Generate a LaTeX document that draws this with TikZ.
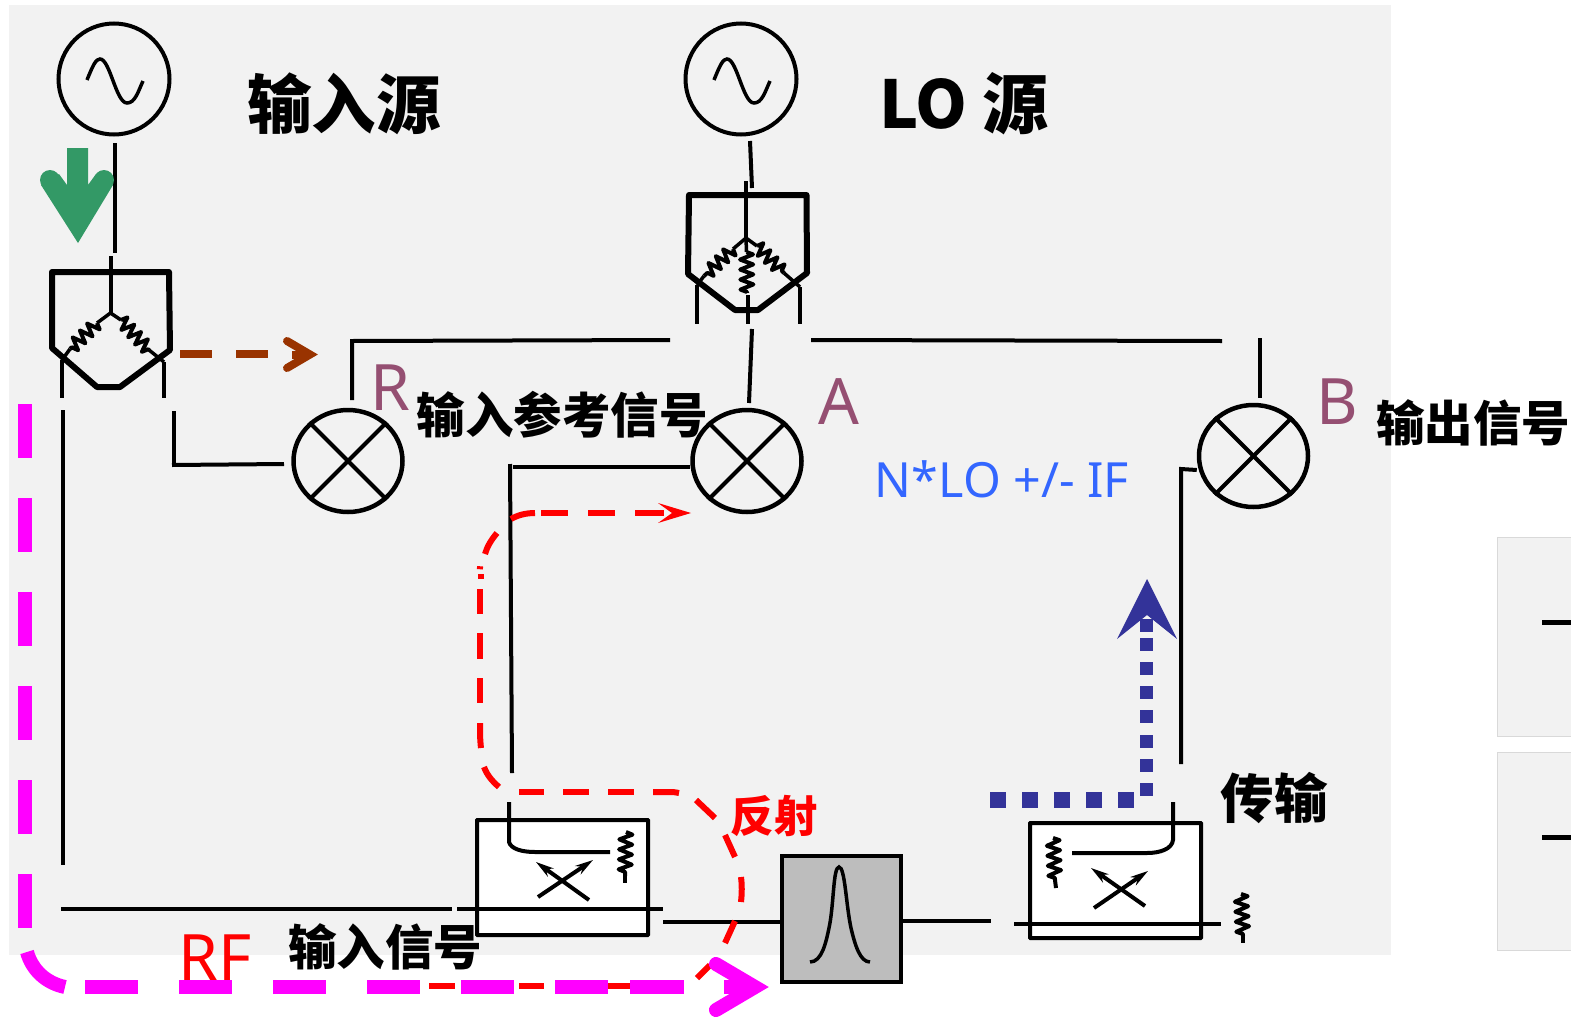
\documentclass[tikz,border=0pt]{standalone}
\usepackage{fontspec}
\setmainfont{Noto Sans}
\newfontfamily\cjk{Noto Sans CJK SC}
\usetikzlibrary{shapes.geometric,decorations.pathmorphing,arrows.meta}
\definecolor{panel}{HTML}{F2F2F2}
\definecolor{panelline}{HTML}{D9D9D9}
\definecolor{grn}{HTML}{339966}
\definecolor{brn}{HTML}{993300}
\definecolor{mag}{HTML}{FF00FF}
\definecolor{nvy}{HTML}{333399}
\definecolor{plum}{HTML}{954F72}
\definecolor{lnk}{HTML}{3366FF}
\definecolor{filt}{HTML}{BDBDBD}
\tikzset{
  x=1pt,y=-1pt,
  wire/.style={line width=4pt},
  thin wire/.style={line width=3.5pt},
  source/.style={circle,draw,line width=4pt,minimum size=111pt,inner sep=0pt},
  mixer/.style={ellipse,draw,line width=4.5pt,minimum width=109pt,minimum height=102pt,inner sep=0pt},
  splitter/.style={line width=6pt,line join=round},
  res/.style={line width=4pt,line join=round,decorate,decoration={zigzag,segment length=10pt,amplitude=6.5pt}},
  couplerbox/.style={draw,fill=white,line width=4pt,inner sep=0pt,rounded corners=0.5pt},
  filterbox/.style={draw,fill=filt,line width=4pt,inner sep=0pt},
  crossarrow/.style={line width=4pt,-{Stealth[length=18pt,width=10pt]}},
  title/.style={inner sep=0pt,text=black},
  letter/.style={font=\fontsize{64}{64}\selectfont,inner sep=0pt,text=plum},
  reddash/.style={red,line width=6pt},
  magdash/.style={mag,line width=14pt}
}
\begin{document}
\begin{tikzpicture}
\useasboundingbox (0,0) rectangle (1571,1017);
% backgrounds
\fill[panel] (9,5) rectangle (1391,955);
\foreach \a/\b in {537/736,752/950}{
  \fill[panel] (1497,\a) rectangle (1571,\b);
  \draw[panelline,line width=1pt] (1571,\a) -- (1497,\a) -- (1497,\b) -- (1571,\b);
}
\draw[line width=5pt] (1542,622) -- (1571,622);
\draw[line width=5pt] (1542,837) -- (1571,837);

% sources
\node[source] (src1) at (114,79) {};
\node[source] (src2) at (741,79) {};
\foreach \s in {src1,src2}
  \draw[thin wire,shift={(\s.center)}] (-27,1) .. controls (-21,-14) and (-18,-20) .. (-14,-20) .. controls (-4,-20) and (2,24) .. (13,24) .. controls (21,24) and (24,13) .. (29,2);

% mixers
\node[mixer] (mR) at (348,461) {};
\node[mixer] (mA) at (747,461) {};
\node[mixer] (mB) at (1253.5,456) {};
\foreach \m in {mR,mA,mB}{
  \draw[wire] (\m.45) -- (\m.225);
  \draw[wire] (\m.135) -- (\m.315);
}

% input splitter
\coordinate (s1top) at (110.5,256);
\coordinate (s1c) at (110.5,313);
\coordinate (s1l) at (62,360);
\coordinate (s1r) at (164,362);
\draw[splitter] (52,272) -- (169,272) -- (170,350) -- (120,387) -- (97,387) -- (52,348) -- cycle;
\draw[wire] (s1top) -- (s1c);
\draw[thin wire] (s1c) -- (97,323);
\draw[res] (97,323) -- (70,349);
\draw[thin wire] (70,349) -- (s1l);
\draw[thin wire] (s1c) -- (121,320);
\draw[res] (121,320) -- (149,350);
\draw[thin wire] (149,350) -- (s1r);
\draw[wire] (s1l) -- (62,398);
\draw[wire] (s1r) -- (164,398);
\coordinate (s1in) at (115,253);
\draw[wire] (115,143) -- (s1in);

% LO splitter
\coordinate (s2top) at (746,181);
\coordinate (s2c) at (746,238);
\coordinate (s2l) at (697,285);
\coordinate (s2r) at (800,287);
\draw[splitter] (689,195) -- (806.5,195) -- (807,273) -- (758,310) -- (735,310) -- (688,274) -- cycle;
\draw[wire] (750,141) -- (752,188);
\draw[wire] (s2top) -- (s2c);
\draw[thin wire] (s2c) -- (733,249);
\draw[res] (733,249) -- (704,276);
\draw[thin wire] (704,276) -- (s2l);
\draw[thin wire] (s2c) -- (757,246);
\draw[res] (757,246) -- (784,273);
\draw[thin wire] (784,273) -- (s2r);
\draw[thin wire] (s2c) -- (746.5,252);
\draw[res] (746.5,252) -- (747,293);
\draw[wire] (748,295) -- (748,324);
\draw[wire] (s2l) -- (697,324);
\draw[wire] (s2r) -- (800,324);

% connectors above and between mixers
\coordinate (rUp) at (352,400);
\coordinate (rLeft) at (284,464);
\coordinate (rLow) at (174,465);
\draw[wire] (rUp) -- (352,341) -- (670,340);
\draw[wire] (752,329) -- (749,403);
\draw[wire] (811,340) -- (1222,341);
\draw[wire] (1260,338) -- (1260,398);
\draw[wire] (63,410) -- (63,865);
\draw[wire] (174,411) -- (rLow);
\draw[wire] (172,465) -- (rLeft);
\draw[wire] (mA.west |- 0,467) -- (513,467);
\draw[wire] (510,464) -- (512,773);
\draw[wire] (mB.west |- 0,470) -- (1181,469) -- (1181,764);

% couplers
\node[couplerbox,minimum width=171pt,minimum height=115pt] (cp1) at (562.5,877.5) {};
\node[couplerbox,minimum width=171pt,minimum height=115pt] (cp2) at (1115.5,880.5) {};
\node[filterbox,minimum width=119pt,minimum height=126pt] (flt) at (841.5,918.5) {};
% coupler 1 detail
\draw[wire] (61,909) -- (452,909);
\draw[wire] (457,909) -- (663,909);
\draw[wire] (509,802) -- (509,842) .. controls (511,849) and (522,852) .. (535,852) -- (610,852);
\draw[res] (626,832) -- (625,876);
\draw[wire] (625,876) -- (625,883);
\draw[crossarrow] (538,897) -- (593,860);
\draw[crossarrow] (589,900) -- (536,862);
% filter
\draw[wire] (663,922) -- (flt.west |- 0,922);
\draw[wire] (flt.east |- 0,921) -- (991,921);
\draw[thin wire] (810,962) .. controls (822,962) and (826,942) .. (829,928) .. controls (834,905) and (833,867) .. (839,867) .. controls (845,867) and (846,905) .. (851,928) .. controls (855,945) and (860,962) .. (870,962);
% coupler 2 detail
\draw[wire] (1014,924) -- (1221,924);
\draw[wire] (1173,802) -- (1173,840) .. controls (1172,849) and (1160,853) .. (1147,853) -- (1072,853);
\draw[res] (1053,838) -- (1055,880);
\draw[wire] (1055,880) -- (1056,888);
\draw[crossarrow] (1094,908) -- (1148,871);
\draw[crossarrow] (1145,906) -- (1091,868);
\draw[res] (1241,894) -- (1243,936);
\draw[wire] (1243,936) -- (1243,943);

% green arrow
\fill[grn] (67,148) -- (88,148) -- (88,185) -- (96,174) -- (113,185) -- (78,243) -- (41,185) -- (59,174) -- (67,185) -- cycle;
\fill[grn] (50,180) circle (10pt) (104,180) circle (10pt);

% brown dashed arrow
\draw[brn,line width=8pt] (180,354) -- (212,354);
\draw[brn,line width=8pt] (236,354) -- (268,354);
\draw[brn,line width=8pt] (292,354.5) -- (305,354.5);
\draw[brn,line width=8pt,line cap=round,miter limit=10] (287,341) -- (310,354.5) -- (287,368);

% red dashed reflection path
\begin{scope}[reddash]
\draw (511,519) .. controls (518,515) and (526,513) .. (535,513);
\draw (541,513) -- (568,513);
\draw (588,513) -- (615,513);
\draw (635,513) -- (664,513);
\fill (691,513) -- (658,503) -- (672,513) -- (658,523) -- cycle;
\draw (497,533) .. controls (491,540) and (487,547) .. (485,554);
\draw[line width=3pt] (477,567.5) -- (483,568);
\draw[line width=5pt] (478,576) -- (484,576);
\draw (480,589) -- (480,614);
\draw (480,633) -- (480,659);
\draw (479.5,678) -- (479.5,703);
\draw (480,723) .. controls (480,732) and (480,740) .. (481,748);
\draw (484,767) .. controls (487,775) and (492,781) .. (499,787);
\draw (519,792) -- (544,792);
\draw (563,792) -- (589,792);
\draw (608,792) -- (634,792);
\draw (653,792) -- (670,792) .. controls (674,792) and (677,792.5) .. (679,793);
\draw (696,800) -- (715,818);
\draw (725,835) -- (735,857);
\draw (741,877) .. controls (742,885) and (742,893) .. (741,902);
\draw (735,921) -- (725,943);
\draw (710,965) -- (697,978);
\draw (429,986) -- (455,986);
\draw (519,986) -- (544,986);
\draw (608,986) -- (632,986);
\end{scope}

% magenta path
\begin{scope}[magdash]
\foreach \a in {404,498,592,686,780,874}
  \draw (25,\a) -- (25,\a+54);
\draw (27,952) .. controls (32,970) and (46,983) .. (65,987);
\foreach \a in {85,179,273,367,461,555}
  \draw (\a,987) -- (\a+53,987);
\draw (630,987) -- (684,987);
\draw (724,987) -- (748,987);
\draw[line cap=round,miter limit=10] (716,964) -- (755,987) -- (716,1010);
\end{scope}

% blue dotted path
\foreach \a in {990,1022,1054,1086,1118}
  \fill[nvy] (\a,792) rectangle (\a+16,808);
\foreach \a in {619,638,662,686,710,735,759,783}
  \fill[nvy] (1140,\a) rectangle (1153,\a+12.5);
\fill[nvy] (1147,579) -- (1177,639) -- (1147,615) -- (1117,639) -- cycle;

% labels
\node[title,font=\cjk\bfseries\fontsize{64.5}{64.5}\selectfont] (t1) at (344,104) {输入源};
\node[title,font=\cjk\bfseries\fontsize{66}{66}\selectfont] (t2) at (964,104) {LO 源};
\node[title,font=\cjk\bfseries\fontsize{48.5}{48.5}\selectfont] (t3) at (562,415) {输入参考信号};
\node[title,font=\cjk\bfseries\fontsize{48.5}{48.5}\selectfont] (t4) at (1473,423) {输出信号};
\node[title,font=\cjk\bfseries\fontsize{53.5}{53.5}\selectfont] (t5) at (1274,798) {传输};
\node[title,font=\cjk\bfseries\fontsize{43.5}{43.5}\selectfont,text=red] (t6) at (774,816) {反射};
\node[title,font=\cjk\bfseries\fontsize{48.5}{48.5}\selectfont] (t7) at (385,947) {输入信号};
\node[letter] (lR) at (390,388) {R};
\node[letter] (lA) at (839,402) {A};
\node[letter] (lB) at (1337,402) {B};
\node[inner sep=0pt,text=red,font=\fontsize{64}{64}\selectfont] (lRF) at (215,958) {RF};
\node[inner sep=0pt,text=lnk,font=\fontsize{48.5}{48.5}\selectfont] (lN) at (1002,479) {N*LO +/- IF};
\end{tikzpicture}
\end{document}
